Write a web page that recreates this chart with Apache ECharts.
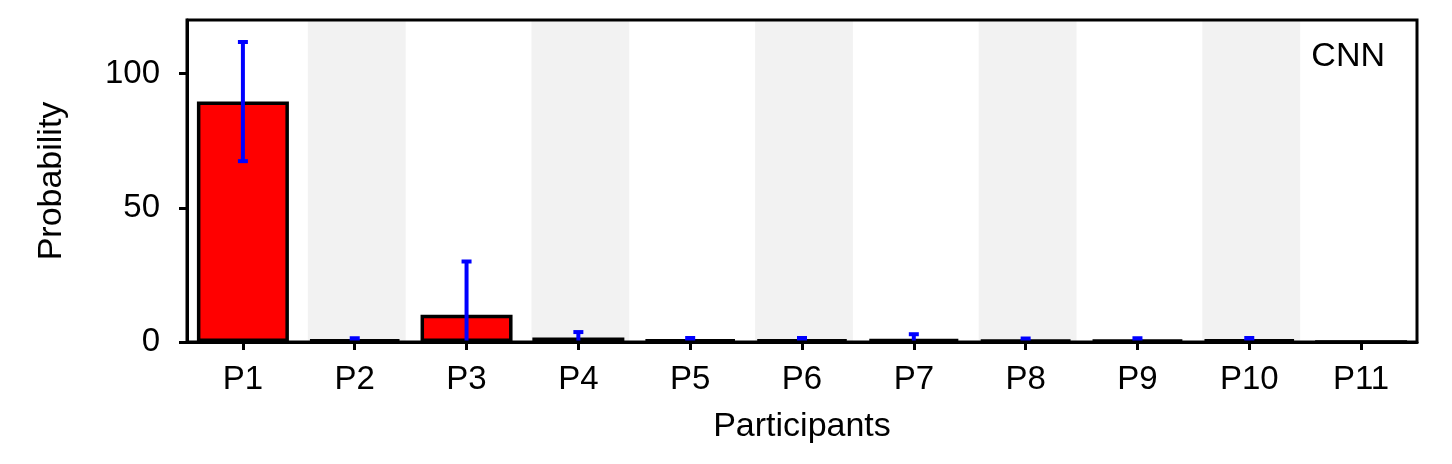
<!DOCTYPE html>
<html>
<head>
<meta charset="utf-8">
<script src="https://cdn.jsdelivr.net/npm/echarts@6/dist/echarts.min.js"></script>
<style>
html,body{margin:0;padding:0;background:#fff;}
#chart{width:1452px;height:464px;}
</style>
</head>
<body>
<div id="chart"></div>
<script>
const categories = ['P1','P2','P3','P4','P5','P6','P7','P8','P9','P10','P11'];
const probability = [89.6, 0.9, 10.2, 1.7, 0.9, 0.9, 1.1, 0.8, 0.8, 0.9, 0];
const errors = [22.2, 0.5, 19.8, 2.0, 0.6, 0.6, 1.8, 0.5, 0.6, 0.6, 0];
const yTicks = [0, 50, 100];
const yMax = 120;
const panelLabel = 'CNN';

const FONT = '"Liberation Sans", Arial, Helvetica, sans-serif';
const FS_NAME = 34;
const FS_TICK = 33;

const chart = echarts.init(document.getElementById('chart'), null, {renderer: 'canvas'});

const bandData = categories.map((c, i) => [i, yMax]);
const errData = categories.map((c, i) => [i, probability[i], errors[i]]);

const option = {
  animation: false,
  backgroundColor: '#ffffff',
  title: {
    text: panelLabel,
    right: 62,
    top: 35,
    textStyle: {fontFamily: FONT, fontSize: FS_NAME, fontWeight: 'normal', color: '#000'}
  },
  grid: {
    left: 187, right: 35, top: 20, bottom: 122,
    show: true, borderColor: '#000', borderWidth: 3, backgroundColor: 'transparent',
    z: 10
  },
  xAxis: {
    type: 'category',
    data: categories,
    name: 'Participants',
    nameLocation: 'middle',
    nameGap: 68,
    nameTextStyle: {fontFamily: FONT, fontSize: FS_NAME, color: '#000'},
    axisLine: {show: true, lineStyle: {color: '#000', width: 3}},
    axisTick: {show: true, alignWithLabel: true, length: 8, lineStyle: {color: '#000', width: 3}},
    axisLabel: {fontFamily: FONT, fontSize: FS_TICK, color: '#000', margin: 21},
    splitLine: {show: false},
    z: 10
  },
  yAxis: {
    type: 'value',
    min: 0,
    max: yMax,
    interval: 50,
    name: 'Probability',
    nameLocation: 'middle',
    nameGap: 118,
    nameTextStyle: {fontFamily: FONT, fontSize: FS_NAME, color: '#000'},
    axisLine: {show: true, lineStyle: {color: '#000', width: 3}},
    axisTick: {show: true, length: 8, customValues: yTicks, lineStyle: {color: '#000', width: 3}},
    axisLabel: {
      fontFamily: FONT, fontSize: FS_TICK, color: '#000', margin: 27,
      customValues: yTicks
    },
    splitLine: {show: false},
    z: 10
  },
  series: [
    {
      type: 'custom',
      name: 'bands',
      silent: true,
      z: 0,
      data: bandData,
      renderItem: function (params, api) {
        const i = api.value(0);
        if (i % 2 !== 1) return null;
        const top = api.coord([i, api.value(1)]);
        const bot = api.coord([i, 0]);
        const w = api.size([1, 0])[0] * 0.875;
        return {
          type: 'rect',
          shape: {x: top[0] - w / 2 + 2, y: top[1], width: w, height: bot[1] - top[1]},
          style: {fill: '#f2f2f2'}
        };
      }
    },
    {
      type: 'bar',
      name: 'Probability',
      data: probability,
      barWidth: 92,
      z: 2,
      itemStyle: {color: '#ff0000', borderColor: '#000', borderWidth: 3.5}
    },
    {
      type: 'custom',
      name: 'error',
      z: 5,
      data: errData,
      renderItem: function (params, api) {
        const i = api.value(0);
        const m = api.value(1);
        const e = api.value(2);
        if (!e) return null;
        const hi = m + e;
        const lo = Math.max(0, m - e);
        const pHi = api.coord([i, hi]);
        const pLo = api.coord([i, lo]);
        const capW = 10;
        const style = {stroke: '#0000ff', lineWidth: 4};
        const children = [
          {type: 'line', shape: {x1: pHi[0], y1: pHi[1], x2: pLo[0], y2: pLo[1]}, style: style},
          {type: 'line', shape: {x1: pHi[0] - capW / 2, y1: pHi[1], x2: pHi[0] + capW / 2, y2: pHi[1]}, style: style}
        ];
        if (m - e > 0) {
          children.push({type: 'line', shape: {x1: pLo[0] - capW / 2, y1: pLo[1], x2: pLo[0] + capW / 2, y2: pLo[1]}, style: style});
        }
        return {type: 'group', children: children};
      }
    }
  ]
};

chart.setOption(option);
</script>
</body>
</html>
